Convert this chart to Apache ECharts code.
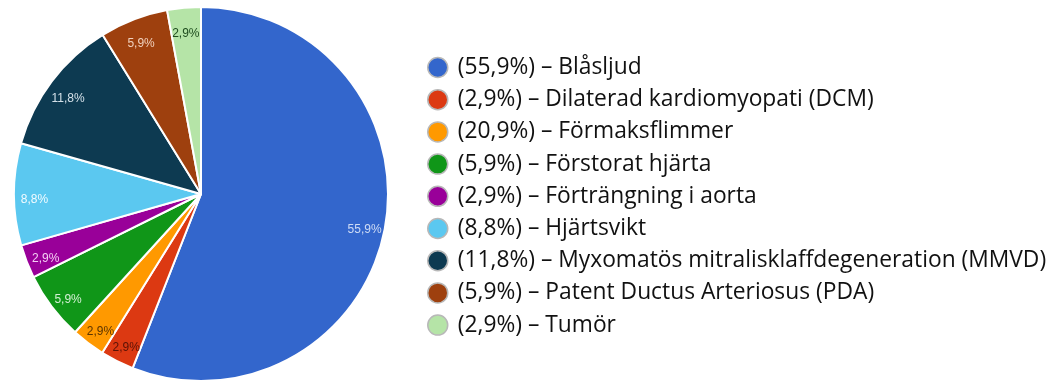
<!DOCTYPE html>
<html>
<head>
<meta charset="utf-8">
<script src="https://cdn.jsdelivr.net/npm/echarts@6/dist/echarts.min.js"></script>
<style>
  html, body { margin: 0; padding: 0; background: #ffffff; }
  #chart { width: 1050px; height: 382px; }
</style>
</head>
<body>
<div id="chart"></div>
<script>
// Diagnoses, in clockwise order from 12 o'clock
const categories = [
  'Blåsljud',
  'Dilaterad kardiomyopati (DCM)',
  'Förmaksflimmer',
  'Förstorat hjärta',
  'Förträngning i aorta',
  'Hjärtsvikt',
  'Myxomatös mitralisklaffdegeneration (MMVD)',
  'Patent Ductus Arteriosus (PDA)',
  'Tumör'
];
// Share of cases, percent
const shares = [55.9, 2.9, 2.9, 5.9, 2.9, 8.8, 11.8, 5.9, 2.9];
// Percentages as printed in the legend
const legendShares = ['55,9%', '2,9%', '20,9%', '5,9%', '2,9%', '8,8%', '11,8%', '5,9%', '2,9%'];

const sliceColors = ['#3366cc', '#dc3912', '#ff9900', '#109618', '#990099',
                     '#5bc8f0', '#0d3a51', '#9e400e', '#b5e4a7'];
const labelColors = ['#cfdcf5', '#5a1206', '#5c3500', '#d3f0d3', '#f3cdf3',
                     '#f2fbff', '#d4e0e8', '#f1d2bf', '#1f4d1f'];

const fmt = v => v.toFixed(1).replace('.', ',') + '%';

const pieData = categories.map((name, i) => ({
  name,
  value: shares[i],
  itemStyle: { color: sliceColors[i] }
}));

const labelData = categories.map((name, i) => ({
  name,
  value: shares[i],
  label: { color: labelColors[i] }
}));

const legendText = {};
categories.forEach((name, i) => { legendText[name] = '(' + legendShares[i] + ') – ' + name; });

const chart = echarts.init(document.getElementById('chart'), null, { renderer: 'canvas' });
chart.setOption({
  animation: false,
  backgroundColor: '#ffffff',
  legend: {
    orient: 'vertical',
    left: 422,
    top: 51,
    icon: 'circle',
    itemWidth: 20,
    itemHeight: 20,
    itemGap: 9.2,
    itemStyle: { borderColor: '#b8b8b8', borderWidth: 1.5 },
    selectedMode: false,
    textStyle: {
      fontFamily: 'Open Sans',
      fontSize: 22.8,
      lineHeight: 20,
      color: '#111111',
      padding: [0, 0, 0, 5]
    },
    formatter: name => legendText[name],
    data: categories
  },
  series: [
    {
      type: 'pie',
      center: [201, 194],
      radius: [0, 187],
      startAngle: 90,
      clockwise: true,
      silent: true,
      label: { show: false },
      labelLine: { show: false },
      itemStyle: { borderColor: '#ffffff', borderWidth: 2 },
      data: pieData
    },
    {
      // transparent ring that carries the percentage labels near the rim
      type: 'pie',
      center: [201, 194],
      radius: [140, 187],
      startAngle: 90,
      clockwise: true,
      silent: true,
      itemStyle: { color: 'rgba(0,0,0,0)' },
      label: {
        show: true,
        position: 'inside',
        offset: [0, 5],
        fontFamily: 'Arial, Liberation Sans, sans-serif',
        fontSize: 12,
        formatter: p => fmt(p.value)
      },
      labelLine: { show: false },
      emphasis: { disabled: true },
      data: labelData
    }
  ]
});
</script>
</body>
</html>
